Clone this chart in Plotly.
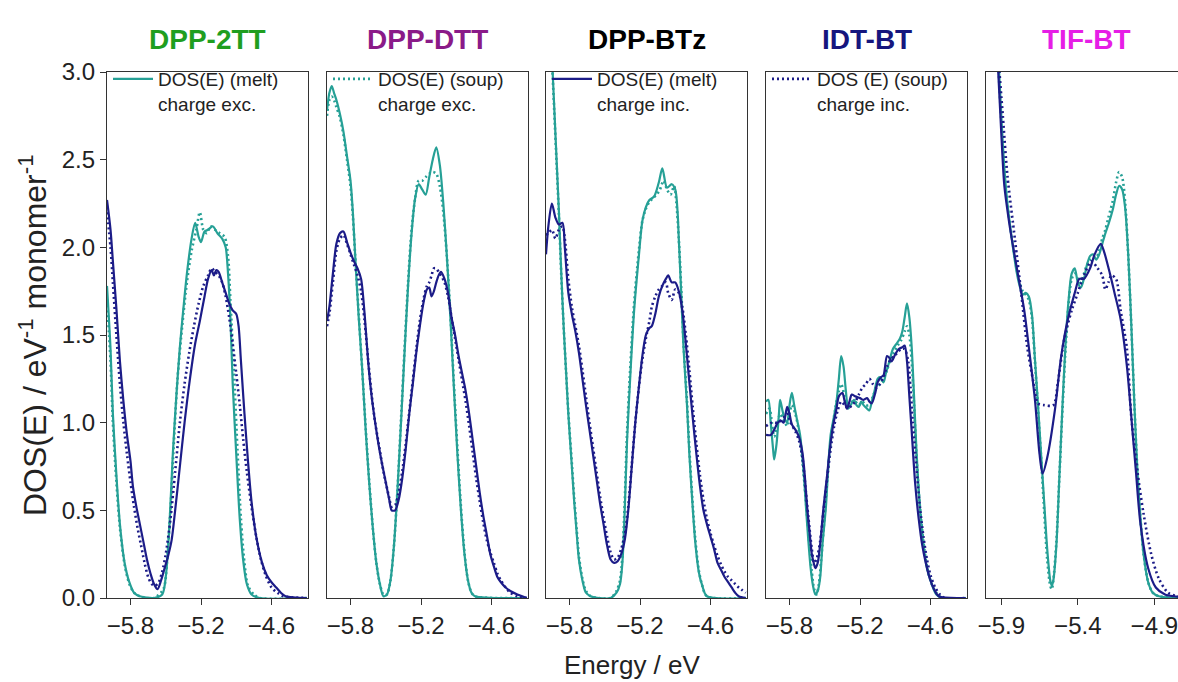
import plotly.graph_objects as go

# ---------------- data (energy eV, DOS) ----------------
PANEL_TITLES = ["DPP-2TT", "DPP-DTT", "DPP-BTz", "IDT-BT", "TIF-BT"]
TITLE_COLORS = ["#1f9e1f", "#8a1a88", "#000000", "#16167e", "#e61ee6"]
XTICKS_A = [-5.8, -5.2, -4.6]
XTICKS_B = [-5.9, -5.4, -4.9]
YTICKS = [0.0, 0.5, 1.0, 1.5, 2.0, 2.5, 3.0]
LEGEND_NAMES = ["DOS(E) (melt)<br>charge exc.", "DOS(E) (soup)<br>charge exc.",
                "DOS(E) (melt)<br>charge inc.", "DOS (E) (soup)<br>charge inc."]

# DPP-2TT
P1_MELT_EXC = [(-6.0,1.78),(-5.97,1.42),(-5.95,1.05),(-5.92,0.7),(-5.89,0.42),(-5.85,0.2),(-5.81,0.09),(-5.77,0.03),(-5.72,0.01),(-5.6,0.0),(-5.53,0.02),(-5.5,0.12),(-5.47,0.4),(-5.44,0.82),(-5.41,1.15),(-5.38,1.43),(-5.35,1.65),(-5.32,1.85),(-5.28,2.05),(-5.25,2.14),(-5.22,2.06),(-5.2,2.03),(-5.17,2.09),(-5.14,2.1),(-5.1,2.12),(-5.06,2.08),(-5.02,2.05),(-4.99,2.0),(-4.97,1.85),(-4.95,1.6),(-4.93,1.22),(-4.9,0.82),(-4.87,0.45),(-4.84,0.21),(-4.81,0.08),(-4.77,0.02),(-4.7,0.0),(-4.3,0.0)]
P1_SOUP_EXC = [(-6.0,1.7),(-5.97,1.35),(-5.95,1.0),(-5.92,0.66),(-5.89,0.4),(-5.85,0.19),(-5.81,0.08),(-5.77,0.03),(-5.72,0.01),(-5.6,0.0),(-5.52,0.05),(-5.49,0.2),(-5.46,0.5),(-5.43,0.9),(-5.4,1.25),(-5.36,1.55),(-5.32,1.8),(-5.28,1.98),(-5.24,2.1),(-5.21,2.2),(-5.18,2.1),(-5.15,2.08),(-5.12,2.12),(-5.08,2.1),(-5.04,2.08),(-5.0,2.06),(-4.97,1.95),(-4.95,1.7),(-4.92,1.3),(-4.89,0.85),(-4.86,0.45),(-4.83,0.2),(-4.8,0.07),(-4.75,0.02),(-4.7,0.0),(-4.3,0.0)]
P1_MELT_INC = [(-6.0,2.27),(-5.97,2.1),(-5.95,1.92),(-5.92,1.65),(-5.89,1.35),(-5.86,1.12),(-5.83,0.93),(-5.8,0.78),(-5.78,0.64),(-5.75,0.52),(-5.72,0.42),(-5.69,0.32),(-5.66,0.22),(-5.63,0.14),(-5.6,0.08),(-5.57,0.05),(-5.54,0.1),(-5.51,0.17),(-5.48,0.24),(-5.45,0.33),(-5.42,0.5),(-5.38,0.75),(-5.34,1.0),(-5.3,1.22),(-5.25,1.45),(-5.21,1.58),(-5.17,1.72),(-5.14,1.82),(-5.11,1.87),(-5.09,1.84),(-5.07,1.87),(-5.05,1.86),(-5.02,1.8),(-4.99,1.74),(-4.96,1.68),(-4.93,1.64),(-4.9,1.62),(-4.88,1.55),(-4.86,1.35),(-4.83,1.05),(-4.8,0.78),(-4.77,0.55),(-4.73,0.35),(-4.68,0.2),(-4.64,0.13),(-4.6,0.09),(-4.56,0.06),(-4.52,0.03),(-4.48,0.01),(-4.3,0.0)]
P1_SOUP_INC = [(-6.0,2.2),(-5.97,2.0),(-5.95,1.8),(-5.92,1.5),(-5.89,1.22),(-5.86,1.0),(-5.83,0.82),(-5.8,0.66),(-5.77,0.52),(-5.74,0.4),(-5.71,0.3),(-5.68,0.2),(-5.65,0.12),(-5.62,0.08),(-5.59,0.07),(-5.56,0.09),(-5.53,0.15),(-5.5,0.25),(-5.46,0.45),(-5.42,0.72),(-5.38,1.0),(-5.34,1.22),(-5.3,1.4),(-5.26,1.55),(-5.22,1.68),(-5.18,1.78),(-5.14,1.84),(-5.11,1.88),(-5.08,1.86),(-5.05,1.84),(-5.02,1.8),(-4.99,1.72),(-4.96,1.6),(-4.93,1.45),(-4.9,1.28),(-4.87,1.1),(-4.84,0.9),(-4.81,0.72),(-4.77,0.52),(-4.73,0.35),(-4.69,0.22),(-4.65,0.13),(-4.6,0.06),(-4.55,0.03),(-4.5,0.01),(-4.3,0.0)]

# DPP-DTT
P2_MELT_EXC = [(-6.0,2.78),(-5.98,2.88),(-5.96,2.92),(-5.94,2.88),(-5.92,2.84),(-5.89,2.76),(-5.86,2.66),(-5.83,2.52),(-5.8,2.38),(-5.78,2.2),(-5.76,1.95),(-5.73,1.6),(-5.7,1.3),(-5.67,0.95),(-5.64,0.65),(-5.61,0.4),(-5.58,0.2),(-5.55,0.08),(-5.52,0.01),(-5.49,0.02),(-5.46,0.1),(-5.43,0.3),(-5.4,0.62),(-5.37,1.0),(-5.34,1.4),(-5.31,1.78),(-5.28,2.08),(-5.25,2.28),(-5.22,2.36),(-5.19,2.33),(-5.16,2.3),(-5.13,2.4),(-5.1,2.5),(-5.07,2.57),(-5.04,2.47),(-5.01,2.25),(-4.98,1.95),(-4.95,1.6),(-4.92,1.2),(-4.89,0.82),(-4.86,0.5),(-4.83,0.25),(-4.8,0.1),(-4.77,0.03),(-4.74,0.01),(-4.3,0.0)]
P2_SOUP_EXC = [(-6.0,2.75),(-5.98,2.84),(-5.96,2.86),(-5.94,2.84),(-5.92,2.8),(-5.89,2.74),(-5.86,2.64),(-5.83,2.5),(-5.8,2.35),(-5.78,2.18),(-5.76,1.95),(-5.73,1.62),(-5.7,1.3),(-5.67,0.96),(-5.64,0.66),(-5.61,0.4),(-5.58,0.2),(-5.55,0.08),(-5.52,0.02),(-5.49,0.02),(-5.46,0.1),(-5.43,0.3),(-5.4,0.62),(-5.37,1.02),(-5.34,1.42),(-5.31,1.8),(-5.28,2.1),(-5.25,2.28),(-5.22,2.38),(-5.19,2.38),(-5.16,2.4),(-5.13,2.42),(-5.1,2.43),(-5.07,2.42),(-5.04,2.35),(-5.01,2.2),(-4.98,1.95),(-4.95,1.62),(-4.92,1.22),(-4.89,0.85),(-4.86,0.52),(-4.83,0.26),(-4.8,0.1),(-4.77,0.03),(-4.74,0.01),(-4.3,0.0)]
P2_MELT_INC = [(-6.0,1.58),(-5.98,1.66),(-5.95,1.85),(-5.92,2.02),(-5.89,2.08),(-5.86,2.09),(-5.83,2.03),(-5.8,1.97),(-5.77,1.92),(-5.74,1.88),(-5.71,1.82),(-5.68,1.62),(-5.65,1.35),(-5.62,1.15),(-5.59,1.0),(-5.56,0.87),(-5.53,0.76),(-5.5,0.66),(-5.47,0.56),(-5.45,0.5),(-5.42,0.5),(-5.39,0.56),(-5.36,0.68),(-5.33,0.85),(-5.3,1.05),(-5.27,1.22),(-5.24,1.4),(-5.21,1.55),(-5.18,1.68),(-5.15,1.76),(-5.13,1.77),(-5.11,1.72),(-5.09,1.75),(-5.07,1.8),(-5.05,1.84),(-5.03,1.86),(-5.0,1.82),(-4.97,1.74),(-4.94,1.6),(-4.91,1.5),(-4.88,1.38),(-4.85,1.28),(-4.82,1.18),(-4.79,1.05),(-4.76,0.9),(-4.73,0.75),(-4.7,0.6),(-4.67,0.47),(-4.64,0.36),(-4.61,0.25),(-4.58,0.18),(-4.55,0.12),(-4.52,0.09),(-4.48,0.06),(-4.44,0.04),(-4.38,0.02),(-4.3,0.0)]
P2_SOUP_INC = [(-6.0,1.55),(-5.98,1.62),(-5.95,1.8),(-5.92,1.98),(-5.89,2.05),(-5.86,2.07),(-5.83,2.02),(-5.8,1.96),(-5.77,1.9),(-5.74,1.84),(-5.71,1.75),(-5.68,1.58),(-5.65,1.36),(-5.62,1.16),(-5.59,1.0),(-5.56,0.88),(-5.53,0.76),(-5.5,0.66),(-5.47,0.57),(-5.45,0.52),(-5.42,0.53),(-5.39,0.6),(-5.36,0.72),(-5.33,0.88),(-5.3,1.06),(-5.27,1.24),(-5.24,1.42),(-5.21,1.58),(-5.18,1.7),(-5.15,1.78),(-5.13,1.8),(-5.11,1.84),(-5.09,1.88),(-5.07,1.88),(-5.05,1.86),(-5.03,1.84),(-5.0,1.8),(-4.97,1.72),(-4.94,1.6),(-4.91,1.48),(-4.88,1.36),(-4.85,1.24),(-4.82,1.12),(-4.79,0.98),(-4.76,0.83),(-4.73,0.68),(-4.7,0.55),(-4.67,0.43),(-4.64,0.33),(-4.61,0.26),(-4.58,0.2),(-4.55,0.14),(-4.52,0.1),(-4.48,0.06),(-4.44,0.03),(-4.38,0.01),(-4.3,0.0)]

# DPP-BTz
P3_MELT_EXC = [(-6.0,3.9),(-5.97,3.45),(-5.95,3.1),(-5.93,2.8),(-5.91,2.5),(-5.89,2.2),(-5.87,1.85),(-5.85,1.55),(-5.83,1.3),(-5.81,1.05),(-5.78,0.75),(-5.76,0.55),(-5.74,0.38),(-5.72,0.22),(-5.69,0.1),(-5.66,0.03),(-5.62,0.01),(-5.55,0.0),(-5.45,0.0),(-5.4,0.03),(-5.37,0.08),(-5.35,0.2),(-5.33,0.5),(-5.31,0.9),(-5.28,1.3),(-5.25,1.64),(-5.21,1.95),(-5.18,2.15),(-5.15,2.23),(-5.12,2.27),(-5.08,2.29),(-5.04,2.37),(-5.01,2.45),(-4.97,2.34),(-4.93,2.36),(-4.9,2.33),(-4.88,2.2),(-4.87,2.05),(-4.85,1.75),(-4.83,1.43),(-4.8,1.1),(-4.78,0.82),(-4.75,0.5),(-4.73,0.32),(-4.7,0.15),(-4.67,0.07),(-4.63,0.01),(-4.3,0.0)]
P3_SOUP_EXC = [(-6.0,3.85),(-5.97,3.42),(-5.95,3.08),(-5.93,2.78),(-5.91,2.48),(-5.89,2.18),(-5.87,1.84),(-5.85,1.55),(-5.83,1.3),(-5.81,1.06),(-5.78,0.77),(-5.76,0.57),(-5.74,0.4),(-5.72,0.24),(-5.69,0.11),(-5.66,0.04),(-5.62,0.01),(-5.55,0.0),(-5.45,0.0),(-5.4,0.04),(-5.37,0.1),(-5.35,0.24),(-5.33,0.55),(-5.31,0.95),(-5.28,1.35),(-5.25,1.68),(-5.21,1.98),(-5.18,2.15),(-5.15,2.22),(-5.12,2.26),(-5.09,2.28),(-5.06,2.3),(-5.03,2.33),(-5.0,2.38),(-4.97,2.33),(-4.94,2.3),(-4.91,2.35),(-4.89,2.25),(-4.87,2.05),(-4.85,1.78),(-4.83,1.46),(-4.8,1.12),(-4.78,0.85),(-4.75,0.52),(-4.73,0.34),(-4.7,0.16),(-4.67,0.07),(-4.63,0.01),(-4.3,0.0)]
P3_MELT_INC = [(-6.0,1.96),(-5.98,2.12),(-5.95,2.25),(-5.92,2.17),(-5.89,2.13),(-5.86,2.14),(-5.84,2.0),(-5.81,1.74),(-5.78,1.62),(-5.75,1.52),(-5.72,1.4),(-5.69,1.25),(-5.66,1.1),(-5.63,0.96),(-5.6,0.82),(-5.57,0.68),(-5.54,0.54),(-5.51,0.42),(-5.48,0.3),(-5.45,0.22),(-5.42,0.2),(-5.39,0.21),(-5.36,0.25),(-5.33,0.33),(-5.3,0.5),(-5.27,0.75),(-5.24,1.0),(-5.21,1.2),(-5.18,1.38),(-5.15,1.5),(-5.12,1.54),(-5.1,1.55),(-5.07,1.62),(-5.04,1.72),(-5.01,1.78),(-4.98,1.82),(-4.96,1.84),(-4.93,1.8),(-4.9,1.8),(-4.87,1.75),(-4.84,1.64),(-4.81,1.45),(-4.78,1.23),(-4.75,1.02),(-4.72,0.82),(-4.69,0.64),(-4.66,0.5),(-4.63,0.42),(-4.6,0.35),(-4.57,0.28),(-4.54,0.2),(-4.51,0.16),(-4.48,0.12),(-4.45,0.09),(-4.42,0.06),(-4.39,0.03),(-4.36,0.01),(-4.3,0.0)]
P3_SOUP_INC = [(-6.0,2.07),(-5.98,2.08),(-5.95,2.1),(-5.92,2.05),(-5.89,2.1),(-5.86,2.12),(-5.84,2.05),(-5.81,1.82),(-5.78,1.66),(-5.75,1.55),(-5.72,1.44),(-5.69,1.3),(-5.66,1.15),(-5.63,1.0),(-5.6,0.86),(-5.57,0.72),(-5.54,0.58),(-5.51,0.46),(-5.48,0.35),(-5.45,0.26),(-5.42,0.22),(-5.39,0.23),(-5.36,0.28),(-5.33,0.36),(-5.3,0.52),(-5.27,0.76),(-5.24,1.0),(-5.21,1.2),(-5.18,1.36),(-5.15,1.48),(-5.12,1.58),(-5.1,1.66),(-5.07,1.72),(-5.04,1.76),(-5.01,1.78),(-4.98,1.8),(-4.96,1.74),(-4.93,1.7),(-4.9,1.76),(-4.87,1.74),(-4.84,1.66),(-4.81,1.5),(-4.78,1.3),(-4.75,1.08),(-4.72,0.88),(-4.69,0.7),(-4.66,0.56),(-4.63,0.45),(-4.6,0.37),(-4.57,0.3),(-4.54,0.24),(-4.51,0.19),(-4.48,0.15),(-4.45,0.12),(-4.42,0.1),(-4.39,0.08),(-4.36,0.06),(-4.3,0.03)]

# IDT-BT
P4_MELT_EXC = [(-6.0,1.12),(-5.98,1.13),(-5.96,1.0),(-5.94,0.85),(-5.93,0.79),(-5.91,0.88),(-5.89,1.05),(-5.88,1.13),(-5.86,1.07),(-5.84,1.02),(-5.82,1.0),(-5.8,1.1),(-5.78,1.17),(-5.76,1.1),(-5.74,1.03),(-5.71,0.93),(-5.68,0.72),(-5.66,0.52),(-5.64,0.33),(-5.62,0.17),(-5.6,0.07),(-5.58,0.02),(-5.56,0.04),(-5.54,0.11),(-5.52,0.3),(-5.49,0.52),(-5.47,0.75),(-5.45,0.93),(-5.42,1.04),(-5.4,1.12),(-5.38,1.25),(-5.36,1.38),(-5.34,1.32),(-5.32,1.18),(-5.3,1.08),(-5.28,1.1),(-5.25,1.13),(-5.23,1.1),(-5.21,1.09),(-5.19,1.12),(-5.17,1.1),(-5.14,1.08),(-5.12,1.07),(-5.1,1.12),(-5.08,1.17),(-5.05,1.25),(-5.03,1.26),(-5.0,1.23),(-4.98,1.28),(-4.95,1.35),(-4.92,1.42),(-4.89,1.45),(-4.86,1.48),(-4.84,1.52),(-4.82,1.6),(-4.8,1.68),(-4.78,1.6),(-4.76,1.43),(-4.74,1.15),(-4.72,0.85),(-4.69,0.52),(-4.66,0.3),(-4.63,0.17),(-4.59,0.08),(-4.55,0.02),(-4.5,0.0),(-4.3,0.0)]
P4_SOUP_EXC = [(-6.0,1.05),(-5.97,1.08),(-5.95,1.0),(-5.93,0.92),(-5.9,1.0),(-5.88,1.05),(-5.85,1.02),(-5.82,0.98),(-5.8,1.05),(-5.78,1.1),(-5.75,1.05),(-5.72,0.95),(-5.69,0.78),(-5.66,0.55),(-5.63,0.3),(-5.61,0.15),(-5.59,0.05),(-5.57,0.02),(-5.55,0.08),(-5.53,0.22),(-5.5,0.48),(-5.47,0.75),(-5.44,0.95),(-5.41,1.08),(-5.38,1.18),(-5.36,1.22),(-5.33,1.15),(-5.3,1.1),(-5.27,1.12),(-5.24,1.12),(-5.21,1.1),(-5.18,1.12),(-5.15,1.1),(-5.12,1.1),(-5.09,1.15),(-5.06,1.2),(-5.03,1.22),(-5.0,1.25),(-4.97,1.3),(-4.94,1.36),(-4.91,1.4),(-4.88,1.44),(-4.85,1.47),(-4.82,1.52),(-4.8,1.55),(-4.78,1.5),(-4.76,1.35),(-4.74,1.1),(-4.72,0.82),(-4.69,0.52),(-4.66,0.32),(-4.63,0.18),(-4.59,0.08),(-4.55,0.03),(-4.5,0.0),(-4.3,0.0)]
P4_MELT_INC = [(-6.0,0.93),(-5.96,0.93),(-5.93,0.96),(-5.9,1.0),(-5.87,1.01),(-5.85,1.0),(-5.82,1.09),(-5.8,1.05),(-5.78,0.99),(-5.75,0.96),(-5.72,0.92),(-5.69,0.83),(-5.67,0.7),(-5.65,0.52),(-5.63,0.38),(-5.61,0.25),(-5.59,0.19),(-5.58,0.17),(-5.56,0.2),(-5.54,0.3),(-5.51,0.52),(-5.48,0.7),(-5.46,0.83),(-5.43,0.98),(-5.4,1.08),(-5.38,1.15),(-5.35,1.17),(-5.33,1.12),(-5.31,1.08),(-5.29,1.12),(-5.27,1.16),(-5.24,1.15),(-5.2,1.14),(-5.17,1.13),(-5.14,1.14),(-5.12,1.12),(-5.1,1.11),(-5.07,1.17),(-5.05,1.23),(-5.02,1.26),(-5.0,1.27),(-4.97,1.38),(-4.95,1.37),(-4.93,1.35),(-4.9,1.39),(-4.87,1.42),(-4.84,1.43),(-4.82,1.44),(-4.8,1.35),(-4.78,1.15),(-4.76,0.95),(-4.73,0.65),(-4.7,0.45),(-4.67,0.3),(-4.64,0.2),(-4.61,0.12),(-4.57,0.05),(-4.53,0.01),(-4.3,0.0)]
P4_SOUP_INC = [(-6.0,0.98),(-5.95,1.0),(-5.9,1.0),(-5.85,1.03),(-5.82,1.05),(-5.79,1.0),(-5.75,0.95),(-5.72,0.9),(-5.69,0.8),(-5.66,0.6),(-5.63,0.4),(-5.61,0.28),(-5.59,0.2),(-5.57,0.22),(-5.54,0.32),(-5.51,0.5),(-5.48,0.68),(-5.45,0.85),(-5.42,0.98),(-5.39,1.07),(-5.36,1.12),(-5.33,1.1),(-5.3,1.08),(-5.27,1.1),(-5.24,1.12),(-5.21,1.16),(-5.18,1.2),(-5.15,1.22),(-5.12,1.25),(-5.09,1.22),(-5.06,1.2),(-5.03,1.22),(-5.0,1.26),(-4.97,1.32),(-4.94,1.36),(-4.91,1.38),(-4.88,1.4),(-4.85,1.42),(-4.82,1.42),(-4.79,1.35),(-4.77,1.2),(-4.75,1.0),(-4.72,0.75),(-4.69,0.52),(-4.66,0.35),(-4.63,0.22),(-4.6,0.13),(-4.56,0.06),(-4.52,0.02),(-4.48,0.0),(-4.3,0.0)]

# TIF-BT
P5_MELT_EXC = [(-6.0,4.5),(-5.95,3.6),(-5.92,3.1),(-5.9,2.75),(-5.88,2.45),(-5.86,2.25),(-5.83,2.04),(-5.8,1.86),(-5.78,1.78),(-5.76,1.73),(-5.74,1.74),(-5.72,1.72),(-5.7,1.62),(-5.68,1.36),(-5.66,1.1),(-5.64,0.82),(-5.62,0.55),(-5.6,0.28),(-5.58,0.1),(-5.57,0.07),(-5.56,0.1),(-5.54,0.3),(-5.52,0.7),(-5.5,1.1),(-5.48,1.45),(-5.46,1.7),(-5.44,1.85),(-5.42,1.88),(-5.4,1.8),(-5.38,1.77),(-5.36,1.82),(-5.34,1.9),(-5.32,1.95),(-5.3,1.96),(-5.28,1.93),(-5.26,1.96),(-5.24,2.02),(-5.22,2.08),(-5.2,2.13),(-5.17,2.22),(-5.15,2.3),(-5.13,2.35),(-5.11,2.33),(-5.09,2.22),(-5.07,1.95),(-5.05,1.55),(-5.03,1.1),(-5.01,0.72),(-4.99,0.45),(-4.97,0.25),(-4.94,0.09),(-4.91,0.03),(-4.87,0.01),(-4.6,0.0)]
P5_SOUP_EXC = [(-6.0,4.4),(-5.95,3.55),(-5.92,3.05),(-5.9,2.72),(-5.88,2.45),(-5.86,2.25),(-5.83,2.05),(-5.8,1.88),(-5.78,1.8),(-5.76,1.75),(-5.74,1.73),(-5.72,1.7),(-5.7,1.6),(-5.68,1.35),(-5.66,1.08),(-5.64,0.8),(-5.62,0.5),(-5.6,0.22),(-5.58,0.07),(-5.57,0.05),(-5.56,0.1),(-5.54,0.32),(-5.52,0.7),(-5.5,1.08),(-5.48,1.42),(-5.46,1.68),(-5.44,1.82),(-5.42,1.85),(-5.4,1.82),(-5.38,1.8),(-5.36,1.85),(-5.34,1.9),(-5.32,1.93),(-5.3,1.94),(-5.28,1.94),(-5.26,1.98),(-5.24,2.05),(-5.22,2.1),(-5.2,2.17),(-5.17,2.27),(-5.15,2.37),(-5.13,2.43),(-5.11,2.4),(-5.09,2.25),(-5.07,1.95),(-5.05,1.55),(-5.03,1.1),(-5.01,0.72),(-4.99,0.45),(-4.97,0.25),(-4.94,0.09),(-4.91,0.03),(-4.87,0.01),(-4.6,0.0)]
P5_MELT_INC = [(-6.0,4.3),(-5.95,3.5),(-5.92,3.0),(-5.9,2.65),(-5.88,2.35),(-5.85,2.15),(-5.83,2.04),(-5.79,1.84),(-5.75,1.64),(-5.72,1.43),(-5.68,1.13),(-5.65,0.82),(-5.63,0.71),(-5.6,0.8),(-5.55,1.07),(-5.51,1.37),(-5.47,1.57),(-5.42,1.74),(-5.39,1.82),(-5.36,1.82),(-5.32,1.88),(-5.29,1.96),(-5.25,2.02),(-5.23,1.98),(-5.19,1.85),(-5.16,1.74),(-5.12,1.59),(-5.08,1.33),(-5.05,1.03),(-5.02,0.72),(-4.99,0.42),(-4.94,0.17),(-4.89,0.06),(-4.83,0.02),(-4.77,0.01),(-4.6,0.0)]
P5_SOUP_INC = [(-6.0,4.4),(-5.95,3.6),(-5.92,3.1),(-5.89,2.75),(-5.86,2.41),(-5.81,2.04),(-5.77,1.74),(-5.73,1.43),(-5.69,1.23),(-5.66,1.11),(-5.62,1.1),(-5.56,1.1),(-5.53,1.23),(-5.49,1.47),(-5.44,1.64),(-5.4,1.74),(-5.36,1.84),(-5.31,1.92),(-5.27,1.88),(-5.24,1.84),(-5.22,1.76),(-5.2,1.8),(-5.18,1.84),(-5.15,1.82),(-5.12,1.64),(-5.08,1.43),(-5.05,1.03),(-5.01,0.72),(-4.97,0.48),(-4.92,0.25),(-4.87,0.11),(-4.81,0.03),(-4.75,0.01),(-4.6,0.0)]

PANELS = [
    (P1_MELT_EXC, P1_SOUP_EXC, P1_MELT_INC, P1_SOUP_INC),
    (P2_MELT_EXC, P2_SOUP_EXC, P2_MELT_INC, P2_SOUP_INC),
    (P3_MELT_EXC, P3_SOUP_EXC, P3_MELT_INC, P3_SOUP_INC),
    (P4_MELT_EXC, P4_SOUP_EXC, P4_MELT_INC, P4_SOUP_INC),
    (P5_MELT_EXC, P5_SOUP_EXC, P5_MELT_INC, P5_SOUP_INC),
]

# ---------------- style / layout ----------------
W, H = 1178, 682
TEAL = "#26a096"
NAVY = "#1c1c88"
SERIES_STYLE = [(TEAL, "solid"), (TEAL, "2px,3px"), (NAVY, "solid"), (NAVY, "2px,3px")]
FONT = "Liberation Sans, Arial, sans-serif"
AX = "#333333"

PANEL_LEFT = [107, 327, 546, 766, 986]
PANEL_W = 201
Y_TOP, Y_BOT = 72, 598


def px(x):
    return x / W


def py(y):
    return 1 - y / H


fig = go.Figure()
legend_names = ["legend", "legend2", "legend3", "legend4"]

for p, series in enumerate(PANELS):
    xa = "x" if p == 0 else f"x{p+1}"
    ya = "y" if p == 0 else f"y{p+1}"
    for s, pts in enumerate(series):
        color, dash = SERIES_STYLE[s]
        show = (p == s)
        fig.add_trace(go.Scatter(
            x=[e for e, _ in pts], y=[d for _, d in pts],
            mode="lines", xaxis=xa, yaxis=ya, hoverinfo="skip",
            line=dict(color=color, width=2.2 if dash == "solid" else 2.6, dash=dash,
                      shape="spline", smoothing=0.8),
            name=LEGEND_NAMES[s], showlegend=show,
            legend=legend_names[s] if show else None,
        ))

layout = dict(
    width=W, height=H,
    margin=dict(l=0, r=0, t=0, b=0, autoexpand=False),
    paper_bgcolor="white", plot_bgcolor="white",
    font=dict(family=FONT, size=20, color="#222222"),
    annotations=[],
)

for p in range(5):
    key = "" if p == 0 else str(p + 1)
    x0 = PANEL_LEFT[p]
    x1 = min(x0 + PANEL_W, W)
    if p < 4:
        xr = [-6.0, -6.0 + PANEL_W / 117.5]
        tv = XTICKS_A
    else:
        xr = [-6.0, -6.0 + (x1 - x0) / 153.0]
        tv = XTICKS_B
    layout["xaxis" + key] = dict(
        domain=[px(x0), px(x1)], range=xr, anchor="y" + key, automargin=False,
        tickvals=tv, tickformat=".1f", ticks="outside", ticklen=6, tickwidth=1.3,
        tickcolor=AX, showline=True, linecolor=AX, linewidth=1.3, mirror=True,
        showgrid=False, zeroline=False, tickfont=dict(size=24),
    )
    layout["yaxis" + key] = dict(
        domain=[py(Y_BOT), py(Y_TOP)], range=[0, 3.0], anchor="x" + key, automargin=False,
        tickvals=YTICKS if p == 0 else [], tickformat=".1f",
        ticks="outside" if p == 0 else "", ticklen=6, tickwidth=1.3, tickcolor=AX,
        showticklabels=(p == 0),
        showline=True, linecolor=AX, linewidth=1.3, mirror=(p < 4),
        showgrid=False, zeroline=False, tickfont=dict(size=24),
    )
    layout["annotations"].append(dict(
        text=f"<b>{PANEL_TITLES[p]}</b>", x=px(x0 + PANEL_W / 2), y=py(40),
        xref="paper", yref="paper", showarrow=False, xanchor="center", yanchor="middle",
        font=dict(size=28, color=TITLE_COLORS[p]),
    ))

layout["annotations"].append(dict(
    text="Energy / eV", x=px(632), y=py(665), xref="paper", yref="paper",
    showarrow=False, xanchor="center", yanchor="middle", font=dict(size=26),
))
layout["annotations"].append(dict(
    text="DOS(E) / eV<sup>-1</sup> monomer<sup>-1</sup>", x=px(33), y=py(335),
    xref="paper", yref="paper", showarrow=False, textangle=-90,
    xanchor="center", yanchor="middle", font=dict(size=32),
))

for i, ln in enumerate(legend_names):
    layout[ln] = dict(
        x=px(PANEL_LEFT[i] + 1), y=py(Y_TOP - 12), xanchor="left", yanchor="top",
        xref="paper", yref="paper", bgcolor="rgba(0,0,0,0)",
        font=dict(size=19, color="#222222"), valign="top",
        itemwidth=40, tracegroupgap=0,
    )

fig.update_layout(**layout)
fig.write_html("out.html", config={"displayModeBar": False, "staticPlot": False},
               post_script="document.body.style.margin='0';document.body.style.overflow='hidden';")
